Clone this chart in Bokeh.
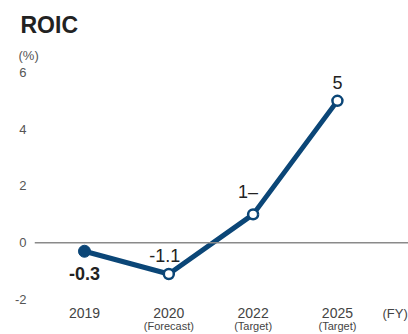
from bokeh.plotting import figure
from bokeh.models import Range1d, FixedTicker, Span, Title, ColumnDataSource
from bokeh.core.properties import value
from bokeh.embed import file_html
from bokeh.resources import INLINE

years = ["2019", "2020", "2022", "2025"]
subs = ["", "(Forecast)", "(Target)", "(Target)"]
roic = [-0.3, -1.1, 1.0, 5.0]
point_labels = ["-0.3", "-1.1", "1–", "5"]
y_ticks = [-2, 0, 2, 4, 6]

NAVY = "#0b4677"
FONT = "Liberation Sans"

xs = list(range(len(years)))

p = figure(width=408, height=334, output_backend="svg", toolbar_location=None,
           x_range=Range1d(-0.593, 3.843), y_range=Range1d(-3.2335, 6.3524),
           min_border_left=34, min_border_right=0, min_border_top=62, min_border_bottom=0,
           outline_line_color=None, background_fill_color="white", border_fill_color="white")
p.xaxis.visible = False
p.grid.visible = False

p.title.text = "ROIC"
p.title.align = "left"
p.title.offset = -14
p.title.text_font = FONT
p.title.text_font_size = "23px"
p.title.text_font_style = "bold"
p.title.text_color = "#222222"
p.title.standoff = 0

unit = Title(text="(%)", align="left", offset=-16, text_font=FONT, text_font_size="13px",
             text_font_style="normal", text_color="#555555", standoff=0)
p.add_layout(unit, "above")
spacer = Title(text=" ", align="left", text_font=FONT, text_font_size="6px", standoff=0)
p.add_layout(spacer, "above")

yax = p.yaxis[0]
yax.ticker = FixedTicker(ticks=y_ticks)
yax.major_label_overrides = {t: str(t) for t in y_ticks}
yax.axis_line_color = None
yax.major_tick_line_color = None
yax.minor_tick_line_color = None
yax.major_label_standoff = 2
yax.major_label_text_font = FONT
yax.major_label_text_font_size = "13px"
yax.major_label_text_color = "#555555"

p.add_layout(Span(location=0, dimension="width", line_color="#8a8a8a", line_width=1.5))

src = ColumnDataSource(dict(x=xs, y=roic, lab=point_labels, yr=years, sub=subs,
                            yb=[-2] * len(xs)))

p.line("x", "y", source=src, line_color=NAVY, line_width=5)
p.scatter(x=xs[:1], y=roic[:1], size=12, fill_color=NAVY, line_color=NAVY)
p.scatter(x=xs[1:], y=roic[1:], size=10, fill_color="white", line_color=NAVY, line_width=2.5)

# data labels
offs_x = [0, -4, -5, 0]
offs_y = [22, -18, -22, -18]
weights = ["bold", "normal", "normal", "normal"]
for i in range(len(xs)):
    p.text(x=[xs[i]], y=[roic[i]], text=[point_labels[i]], x_offset=offs_x[i], y_offset=offs_y[i],
           text_align="center", text_baseline="middle", text_font=value(FONT),
           text_font_size="18px", text_font_style=weights[i], text_color="#222222")

# category labels
p.text(x="x", y="yb", text="yr", source=src, y_offset=14, text_align="center",
       text_baseline="middle", text_font=value(FONT), text_font_size="14px", text_color="#444444")
p.text(x="x", y="yb", text="sub", source=src, y_offset=27, text_align="center",
       text_baseline="middle", text_font=value(FONT), text_font_size="11px", text_color="#444444")
p.text(x=[3.843], y=[-2], text=["(FY)"], x_offset=-26, y_offset=14, text_align="left",
       text_baseline="middle", text_font=value(FONT), text_font_size="13px", text_color="#444444")

open("out.html", "w").write(file_html(p, INLINE))
